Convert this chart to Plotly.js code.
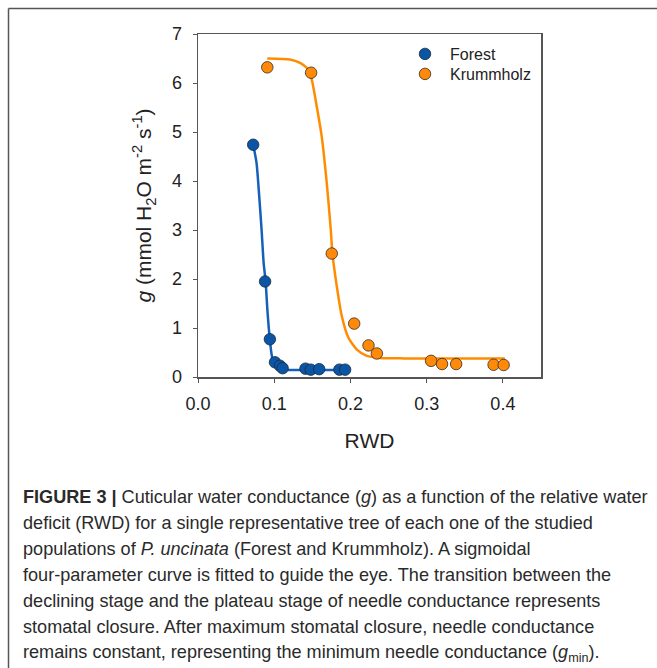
<!DOCTYPE html>
<html>
<head>
<meta charset="utf-8">
<script src="https://cdn.plot.ly/plotly-3.0.1.min.js"></script>
<style>
html,body{margin:0;padding:0;background:#fff;}
#chart{width:657px;height:668px;}
</style>
</head>
<body>
<div id="chart"></div>
<script>
// Measured data points
var forestX = [0.0724, 0.0880, 0.0943, 0.1010, 0.1075, 0.1110, 0.1410, 0.1480, 0.1590, 0.1855, 0.1930];
var forestY = [4.74, 1.95, 0.77, 0.30, 0.23, 0.18, 0.17, 0.15, 0.16, 0.15, 0.15];
var krumX = [0.0909, 0.1484, 0.1755, 0.2049, 0.2237, 0.2347, 0.3058, 0.3202, 0.3387, 0.3878, 0.4010];
var krumY = [6.32, 6.21, 2.52, 1.09, 0.645, 0.48, 0.33, 0.265, 0.265, 0.25, 0.245];

// Fitted curves
var forestCurveX = [0.0724, 0.0768, 0.0803, 0.0834, 0.0861, 0.0887, 0.0913, 0.0943, 0.0970, 0.1000, 0.1053, 0.1140, 0.1930];
var forestCurveY = [4.74, 4.37, 3.69, 3.01, 2.33, 1.95, 1.31, 0.76, 0.42, 0.25, 0.18, 0.15, 0.15];
var krumCurveX = [0.0908, 0.1207, 0.1338, 0.1426, 0.1492, 0.1558, 0.1623, 0.1689, 0.1742, 0.1763, 0.1821, 0.1887, 0.1974, 0.2084, 0.2216, 0.2390, 0.2697, 0.4026];
var krumCurveY = [6.50, 6.48, 6.41, 6.31, 6.07, 5.52, 4.91, 3.96, 3.01, 2.53, 1.85, 1.24, 0.80, 0.56, 0.43, 0.39, 0.38, 0.38];

var seriesNames = ["Forest", "Krummholz"];
var xTickVals = [0.0, 0.1, 0.2, 0.3, 0.4];
var xTickText = ["0.0", "0.1", "0.2", "0.3", "0.4"];
var yTickVals = [0, 1, 2, 3, 4, 5, 6, 7];

var captionLines = [
  "<b>FIGURE 3 |</b> Cuticular water conductance (<i>g</i>) as a function of the relative water",
  "deficit (RWD) for a single representative tree of each one of the studied",
  "populations of <i>P. uncinata</i> (Forest and Krummholz). A sigmoidal",
  "four-parameter curve is fitted to guide the eye. The transition between the",
  "declining stage and the plateau stage of needle conductance represents",
  "stomatal closure. After maximum stomatal closure, needle conductance",
  "remains constant, representing the minimum needle conductance (<i>g</i><sub>min</sub>)."
];

var blue = "#0b55a6", blueLine = "#1560b8";
var orange = "#ff8a0a", orangeLine = "#ff8c00";

var W = 657, H = 668;
var mL = 198, mR = 116, mT = 34, mB = 291;
var pw = W - mL - mR, ph = H - mT - mB;
function px2x(px){ return (px - mL) / pw; }
function py2y(py){ return (H - mB - py) / ph; }

var traces = [
  {x: forestCurveX, y: forestCurveY, mode: "lines", line: {color: blueLine, width: 2.5, shape: "spline", smoothing: 0.6}, showlegend: false, hoverinfo: "skip"},
  {x: krumCurveX, y: krumCurveY, mode: "lines", line: {color: orangeLine, width: 2.5, shape: "spline", smoothing: 0.6}, showlegend: false, hoverinfo: "skip"},
  {x: forestX, y: forestY, mode: "markers", name: seriesNames[0], legend: "legend", marker: {color: blue, size: 11.5, line: {color: "#1a2a3a", width: 0.8}}},
  {x: krumX, y: krumY, mode: "markers", name: seriesNames[1], legend: "legend2", marker: {color: orange, size: 11.5, line: {color: "#3a2a1a", width: 0.8}}}
];

var annotations = captionLines.map(function(t, i){
  return {
    text: t, xref: "paper", yref: "paper",
    x: px2x(21), y: py2y(497 + i * 26),
    xanchor: "left", yanchor: "middle", showarrow: false,
    font: {family: "Liberation Sans, Arial, sans-serif", size: 18.1, color: "#2a2a2a"}
  };
});

function legendAt(pyCenter){
  return {x: px2x(400), y: py2y(pyCenter), xanchor: "left", yanchor: "middle",
    font: {size: 16, color: "#222"}, bgcolor: "rgba(0,0,0,0)", itemwidth: 40};
}

var layout = {
  width: W, height: H,
  margin: {l: mL, r: mR, t: mT, b: mB, pad: 0},
  paper_bgcolor: "#fff", plot_bgcolor: "#fff",
  font: {family: "Liberation Sans, Arial, sans-serif", color: "#222"},
  showlegend: true,
  legend: legendAt(54),
  legend2: legendAt(74),
  xaxis: {
    range: [0, 0.45], tickvals: xTickVals, ticktext: xTickText,
    ticks: "outside", ticklen: 4, tickcolor: "#555", tickwidth: 1,
    showline: true, linecolor: "#555", linewidth: 1.5, mirror: true,
    showgrid: false, zeroline: false, ticklabelstandoff: 6,
    tickfont: {size: 18, color: "#222"},
    title: {text: "RWD", font: {size: 21, color: "#222"}, standoff: 20},
    automargin: false
  },
  yaxis: {
    range: [0, 7], tickvals: yTickVals,
    ticks: "outside", ticklen: 4, tickcolor: "#555", tickwidth: 1,
    showline: true, linecolor: "#555", linewidth: 1.5, mirror: true,
    showgrid: false, zeroline: false, ticklabelstandoff: 7,
    tickfont: {size: 18, color: "#222"},
    title: {text: "<i>g</i> (mmol H<sub>2</sub>O m<sup>-2</sup> s<sup>-1</sup>)", font: {size: 21, color: "#222"}, standoff: 14},
    automargin: false
  },
  shapes: [
    {type: "line", xref: "paper", yref: "paper", x0: px2x(8.5), x1: px2x(700), y0: py2y(8.5), y1: py2y(8.5), line: {color: "#555", width: 1.5}},
    {type: "line", xref: "paper", yref: "paper", x0: px2x(8.5), x1: px2x(8.5), y0: py2y(8.5), y1: py2y(700), line: {color: "#555", width: 1.5}}
  ],
  annotations: annotations
};

Plotly.newPlot("chart", traces, layout, {displayModeBar: false, staticPlot: true});
</script>
</body>
</html>
